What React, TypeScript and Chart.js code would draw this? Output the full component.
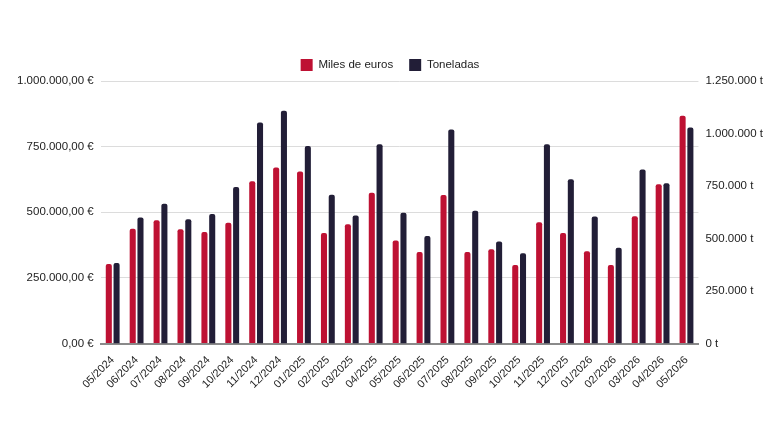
import React, { useEffect, useRef } from "react";
import { Chart, registerables } from "chart.js";

Chart.register(...registerables);

const categories = [
  "05/2024", "06/2024", "07/2024", "08/2024", "09/2024", "10/2024", "11/2024", "12/2024",
  "01/2025", "02/2025", "03/2025", "04/2025", "05/2025", "06/2025", "07/2025", "08/2025",
  "09/2025", "10/2025", "11/2025", "12/2025", "01/2026", "02/2026", "03/2026", "04/2026", "05/2026",
];

const milesDeEuros = [
  302700, 436800, 470000, 435500, 425300, 459800, 618100, 670500,
  655200, 421500, 454700, 574700, 392100, 348700, 565800, 348700,
  358900, 298900, 462300, 421500, 351200, 298900, 485300, 606600, 867200,
];

const toneladas = [
  383000, 600300, 665700, 592300, 616200, 745500, 1052000, 1107900,
  940300, 708800, 609800, 948300, 622600, 512500, 1018500, 632200,
  485300, 429400, 948300, 782200, 605000, 456600, 828500, 763100, 1028100,
];

const leftTicks = [0, 250000, 500000, 750000, 1000000];
const rightTicks = [0, 250000, 500000, 750000, 1000000, 1250000];

function group(n: number): string {
  const s = Math.round(n).toString();
  return s.replace(/\B(?=(\d{3})+(?!\d))/g, ".");
}

const fontFamily = "'Liberation Sans', Arial, Helvetica, sans-serif";

export default function App() {
  const ref = useRef<HTMLCanvasElement | null>(null);

  useEffect(() => {
    if (!ref.current) return;
    const chart = new Chart(ref.current, {
      type: "bar",
      data: {
        labels: categories,
        datasets: [
          {
            label: "Miles de euros",
            data: milesDeEuros,
            backgroundColor: "#BE1133",
            borderRadius: { topLeft: 2, topRight: 2, bottomLeft: 0, bottomRight: 0 },
            borderSkipped: false,
            yAxisID: "y",
            categoryPercentage: 0.65,
            barPercentage: 0.78,
          },
          {
            label: "Toneladas",
            data: toneladas,
            backgroundColor: "#221E37",
            borderRadius: { topLeft: 2, topRight: 2, bottomLeft: 0, bottomRight: 0 },
            borderSkipped: false,
            yAxisID: "y1",
            categoryPercentage: 0.65,
            barPercentage: 0.78,
          },
        ],
      },
      options: {
        animation: false,
        responsive: true,
        maintainAspectRatio: false,
        layout: { padding: { top: 43, left: 10, right: 10, bottom: 40 } },
        plugins: {
          legend: {
            position: "top",
            labels: {
              boxWidth: 12,
              boxHeight: 12,
              padding: 16,
              color: "#222",
              font: { family: fontFamily, size: 11.5 },
            },
          },
          tooltip: { enabled: false },
        },
        scales: {
          x: {
            grid: { display: false },
            border: { color: "#8a8a8a", width: 2 },
            ticks: {
              color: "#222",
              font: { family: fontFamily, size: 11 },
              maxRotation: 45,
              minRotation: 45,
              autoSkip: false,
              padding: 2,
            },
          },
          y: {
            position: "left",
            min: 0,
            max: 1000000,
            afterBuildTicks: (axis: any) => {
              axis.ticks = leftTicks.map((v) => ({ value: v }));
            },
            grid: { color: "#dcdcdc", drawTicks: false },
            border: { display: false },
            ticks: {
              color: "#222",
              font: { family: fontFamily, size: 11.5 },
              padding: 7,
              callback: (v: any) => group(Number(v)) + ",00 €",
            },
          },
          y1: {
            position: "right",
            min: 0,
            max: 1250000,
            afterBuildTicks: (axis: any) => {
              axis.ticks = rightTicks.map((v) => ({ value: v }));
            },
            grid: { display: false, drawTicks: false },
            border: { display: false },
            ticks: {
              color: "#222",
              font: { family: fontFamily, size: 11.5 },
              padding: 7,
              callback: (v: any) => group(Number(v)) + " t",
            },
          },
        },
      },
    });
    return () => chart.destroy();
  }, []);

  return (
    <div style={{ position: "fixed", left: 0, top: 0, width: 780, height: 433, background: "#fff" }}>
      <canvas ref={ref} />
    </div>
  );
}
